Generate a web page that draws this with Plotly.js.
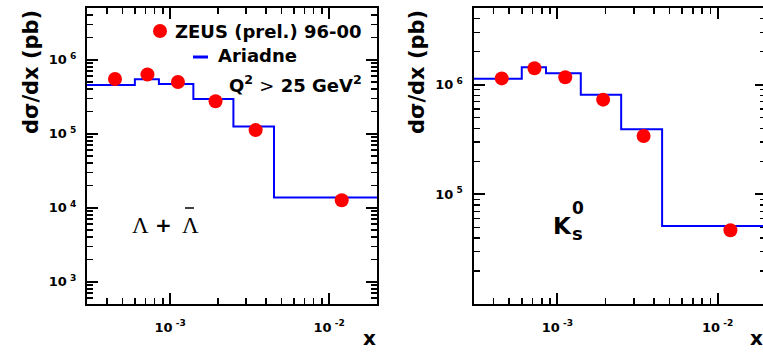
<!DOCTYPE html>
<html>
<head>
<meta charset="utf-8">
<script src="https://cdn.plot.ly/plotly-3.0.1.min.js"></script>
<style>
  html, body { margin: 0; padding: 0; overflow: hidden; background: #fff; }
  #chart { width: 766px; height: 352px; }
</style>
</head>
<body>
<div id="chart"></div>
<script>
// x bin edges of the Ariadne histogram and bin centres of the measured points
const binEdges = [3e-4, 6e-4, 8.5e-4, 1.4e-3, 2.5e-3, 4.5e-3, 2e-2];
const pointX = [4.5e-4, 7.2e-4, 1.12e-3, 1.93e-3, 3.45e-3, 1.2e-2];

// Lambda + anti-Lambda: dsigma/dx (pb)
const lambdaData = [5.5e5, 6.3e5, 5.0e5, 2.75e5, 1.12e5, 1.26e4];
const lambdaAriadne = [4.55e5, 5.45e5, 4.7e5, 2.95e5, 1.25e5, 1.37e4];

// K0s: dsigma/dx (pb)
const k0Data = [1.14e6, 1.41e6, 1.17e6, 7.3e5, 3.4e5, 4.7e4];
const k0Ariadne = [1.13e6, 1.44e6, 1.27e6, 8.1e5, 3.93e5, 5.15e4];

// axis ranges (decimal log) and major tick exponents
const xRangeLog = [Math.log10(3e-4), Math.log10(2e-2)];
const xTickExp = [-3, -2];
const yRangeLeftLog = [Math.log10(500), Math.log10(5e6)];
const yTickExpLeft = [3, 4, 5, 6];
const yRangeRightLog = [4, Math.log10(5e6)];
const yTickExpRight = [5, 6];

const W = 766, H = 352;
const px = x => x / W;
const py = y => 1 - y / H;

function stepY(vals) { return vals.concat([vals[vals.length - 1]]); }
function minorVals(lo, hi) {
  const out = [];
  for (let e = lo; e <= hi; e++) for (let d = 2; d <= 9; d++) out.push(d * Math.pow(10, e));
  return out;
}
const majorVals = exps => exps.map(e => Math.pow(10, e));
const majorText = exps => exps.map(e => '10<sup>\u00a0' + e + '</sup>');

const FAM = 'DejaVu Sans, Liberation Sans, sans-serif';
const boldFont = size => ({ family: FAM, size: size, color: '#000', weight: 'bold' });

function xAxis(domain, anchor) {
  return {
    type: 'log', range: xRangeLog, domain: domain, anchor: anchor,
    tickmode: 'array', tickvals: majorVals(xTickExp), ticktext: majorText(xTickExp),
    ticks: 'inside', ticklen: 11, tickwidth: 2, tickcolor: '#000',
    minor: { tickmode: 'array', tickvals: minorVals(-4, -2), ticks: 'inside', ticklen: 6, tickwidth: 1.5, tickcolor: '#000' },
    showline: true, linecolor: '#000', linewidth: 2, mirror: 'allticks',
    showgrid: false, zeroline: false, ticklabelstandoff: 10,
    tickfont: boldFont(13)
  };
}
function yAxis(range, exps, domain, anchor) {
  return {
    type: 'log', range: range, domain: domain, anchor: anchor,
    tickmode: 'array', tickvals: majorVals(exps), ticktext: majorText(exps),
    ticks: 'inside', ticklen: 11, tickwidth: 2, tickcolor: '#000',
    minor: { tickmode: 'array', tickvals: minorVals(1, 7), ticks: 'inside', ticklen: 6, tickwidth: 1.5, tickcolor: '#000' },
    showline: true, linecolor: '#000', linewidth: 2, mirror: 'allticks',
    showgrid: false, zeroline: false, ticklabelstandoff: 6,
    tickfont: boldFont(13)
  };
}

const yDom = [py(304), py(8)];

const traces = [
  { x: binEdges, y: stepY(lambdaAriadne), xaxis: 'x', yaxis: 'y', mode: 'lines',
    line: { shape: 'hv', color: '#0000ff', width: 2 }, name: 'Ariadne' },
  { x: pointX, y: lambdaData, xaxis: 'x', yaxis: 'y', mode: 'markers',
    marker: { color: '#ff0000', size: 14 }, name: 'ZEUS (prel.) 96-00' },
  { x: binEdges, y: stepY(k0Ariadne), xaxis: 'x2', yaxis: 'y2', mode: 'lines',
    line: { shape: 'hv', color: '#0000ff', width: 2 }, name: 'Ariadne' },
  { x: pointX, y: k0Data, xaxis: 'x2', yaxis: 'y2', mode: 'markers',
    marker: { color: '#ff0000', size: 14 }, name: 'ZEUS (prel.) 96-00' }
];

const ann = (x, y, text, opts) => Object.assign({
  xref: 'paper', yref: 'paper', x: px(x), y: py(y), text: text, showarrow: false,
  xanchor: 'left', yanchor: 'middle', borderpad: 0, font: boldFont(18)
}, opts || {});
const serif = size => ({ family: 'Liberation Serif, DejaVu Serif, serif', size: size, color: '#000' });

const annotations = [
  // axis titles
  ann(31, 9, 'd\u03c3/dx (pb)', { textangle: -90, xanchor: 'center', yanchor: 'top', font: boldFont(21) }),
  ann(417, 9, 'd\u03c3/dx (pb)', { textangle: -90, xanchor: 'center', yanchor: 'top', font: boldFont(21) }),
  ann(377, 351, 'x', { xanchor: 'right', yanchor: 'bottom', font: boldFont(20) }),
  ann(764, 351, 'x', { xanchor: 'right', yanchor: 'bottom', font: boldFont(20) }),
  // legend and cut
  ann(174, 31, 'ZEUS (prel.) 96-00'),
  ann(217, 56, 'Ariadne'),
  ann(363, 84, 'Q<sup>2</sup> <span style="font-weight:normal">&gt;</span> 25 GeV<sup>2</sup>', { xanchor: 'right' }),
  // particle labels
  ann(131, 225, '\u039b', { font: serif(23) }),
  ann(163.5, 225, '+', { xanchor: 'center', font: boldFont(20) }),
  ann(181, 225, '\u039b', { font: serif(23) }),
  ann(552, 226, 'K', { font: boldFont(23) }),
  ann(571, 208, '0', { font: boldFont(17) }),
  ann(570.5, 233, 's', { font: boldFont(18) })
];

const shapes = [
  // legend entries
  { type: 'circle', xref: 'paper', yref: 'paper', x0: px(153), x1: px(167), y0: py(38), y1: py(24),
    fillcolor: '#ff0000', line: { width: 0 } },
  { type: 'line', xref: 'paper', yref: 'paper', x0: px(193), x1: px(208), y0: py(57), y1: py(57),
    line: { color: '#0000ff', width: 3 } },
  // bar over the anti-Lambda
  { type: 'line', xref: 'paper', yref: 'paper', x0: px(185), x1: px(194), y0: py(208), y1: py(208),
    line: { color: '#000', width: 1.5 } }
];

const layout = {
  width: W, height: H,
  margin: { l: 0, r: 0, t: 0, b: 0 },
  paper_bgcolor: '#fff', plot_bgcolor: '#fff',
  font: { family: FAM, color: '#000' },
  showlegend: false,
  xaxis: xAxis([px(87), px(377)], 'y'),
  yaxis: yAxis(yRangeLeftLog, yTickExpLeft, yDom, 'x'),
  xaxis2: xAxis([px(473.5), 1], 'y2'),
  yaxis2: yAxis(yRangeRightLog, yTickExpRight, yDom, 'x2'),
  annotations: annotations,
  shapes: shapes
};

Plotly.newPlot('chart', traces, layout, { staticPlot: true, displayModeBar: false });
</script>
</body>
</html>
